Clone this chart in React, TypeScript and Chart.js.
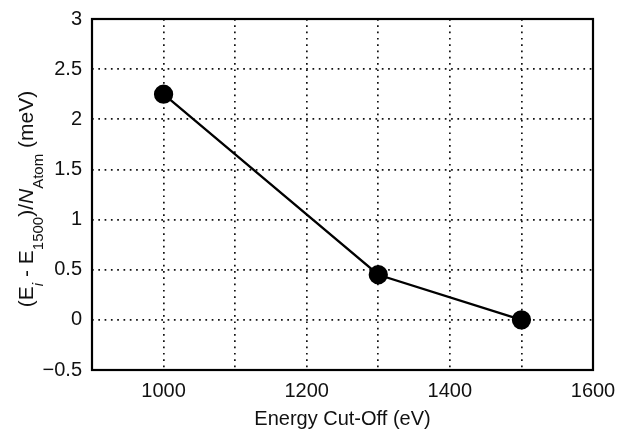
import { useEffect, useRef } from "react";
import { Chart, registerables } from "chart.js";

Chart.register(...registerables);

const cutoffs = [1000, 1300, 1500];
const energyDiff = [2.25, 0.45, 0];
const xLabelledTicks = [1000, 1200, 1400, 1600];
const xTitle = "Energy Cut-Off (eV)";
const yTitleParts = [
  { text: "(E", sub: false, italic: false },
  { text: "i", sub: true, italic: true },
  { text: " - E", sub: false, italic: false },
  { text: "1500", sub: true, italic: false },
  { text: ")/", sub: false, italic: false },
  { text: "N", sub: false, italic: true },
  { text: "Atom", sub: true, italic: false },
  { text: " (meV)", sub: false, italic: false },
];

const FONT = "'Liberation Sans', Arial, Helvetica, sans-serif";

const framePlugin = {
  id: "frameAndTitles",
  afterDraw(chart: any) {
    const { ctx, chartArea } = chart;
    ctx.save();
    ctx.strokeStyle = "#000";
    ctx.lineWidth = 2.2;
    ctx.strokeRect(chartArea.left, chartArea.top, chartArea.right - chartArea.left, chartArea.bottom - chartArea.top);

    // x title
    ctx.fillStyle = "#111";
    ctx.font = `20px ${FONT}`;
    ctx.textAlign = "center";
    ctx.textBaseline = "alphabetic";
    ctx.fillText(xTitle, (chartArea.left + chartArea.right) / 2, 425);

    // y title with subscripts
    const mainSize = 21;
    const subSize = 15;
    const fontFor = (p: any) => `${p.italic ? "italic " : ""}${p.sub ? subSize : mainSize}px ${FONT}`;
    let total = 0;
    const widths = yTitleParts.map((p) => {
      ctx.font = fontFor(p);
      const w = ctx.measureText(p.text).width;
      total += w;
      return w;
    });
    const cy = 199;
    ctx.translate(33, cy);
    ctx.rotate(-Math.PI / 2);
    ctx.textAlign = "left";
    let x = -total / 2;
    yTitleParts.forEach((p, i) => {
      ctx.font = fontFor(p);
      ctx.fillText(p.text, x, p.sub ? 10 : 0);
      x += widths[i];
    });
    ctx.restore();
  },
};

export default function App() {
  const ref = useRef<HTMLCanvasElement | null>(null);
  useEffect(() => {
    document.body.style.margin = "0";
    const canvas = ref.current;
    if (!canvas) return;
    const chart = new Chart(canvas, {
      type: "line",
      data: {
        datasets: [
          {
            data: cutoffs.map((c, i) => ({ x: c, y: energyDiff[i] })),
            borderColor: "#000",
            backgroundColor: "#000",
            borderWidth: 2.3,
            pointRadius: 8.5,
            pointHoverRadius: 8.5,
            pointBackgroundColor: "#000",
            pointBorderColor: "#000",
            tension: 0,
          },
        ],
      },
      options: {
        responsive: false,
        animation: false,
        events: [],
        layout: { padding: { top: 19, right: 25, left: 0, bottom: 0 } },
        plugins: { legend: { display: false }, tooltip: { enabled: false } },
        scales: {
          x: {
            type: "linear",
            min: 900,
            max: 1600,
            afterFit: (s: any) => {
              s.height = 60;
              s.paddingLeft = 0;
              s.paddingRight = 0;
            },
            ticks: {
              stepSize: 100,
              autoSkip: false,
              maxRotation: 0,
              padding: 9,
              color: "#111",
              font: { family: FONT, size: 20 },
              callback: (v: any) => (xLabelledTicks.includes(Number(v)) ? String(v) : ""),
            },
            grid: { color: "#111", lineWidth: 1.7, drawTicks: false },
            border: { display: false, dash: [1.7, 4.6] },
          },
          y: {
            type: "linear",
            min: -0.5,
            max: 3,
            afterFit: (s: any) => {
              s.width = 92;
              s.paddingTop = 0;
              s.paddingBottom = 0;
            },
            ticks: {
              stepSize: 0.5,
              padding: 10,
              color: "#111",
              font: { family: FONT, size: 20 },
              callback: (v: any) => {
                const n = Math.round(Number(v) * 10) / 10;
                return n < 0 ? "\u2212" + Math.abs(n) : String(n);
              },
            },
            grid: { color: "#111", lineWidth: 1.7, drawTicks: false },
            border: { display: false, dash: [1.7, 4.6] },
          },
        },
      },
      plugins: [framePlugin],
    });
    return () => chart.destroy();
  }, []);
  return (
    <div style={{ width: 618, height: 430, background: "#fff" }}>
      <canvas ref={ref} width={618} height={430} style={{ display: "block" }} />
    </div>
  );
}
